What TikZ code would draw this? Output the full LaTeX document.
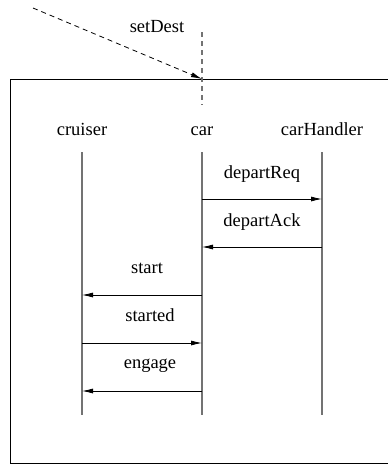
\documentclass[tikz,border=0pt]{standalone}
\usepackage{fontspec}
\setmainfont{Liberation Serif}
\usetikzlibrary{arrows.meta}
\begin{document}
\begin{tikzpicture}[x=1pt,y=-1pt,
  lbl/.style={font=\fontsize{18.5}{22}\selectfont, anchor=base, inner sep=0pt},
  lifeline/.style={draw=black!55, line width=1.3pt},
  msg/.style={draw=black, line width=0.8pt, -{Latex[length=11pt,width=5pt]}},
  extmsg/.style={draw=black, line width=0.8pt, dash pattern=on 5pt off 4pt, -{Latex[length=11pt,width=5pt]}},
  gate/.style={draw=black!55, line width=1.3pt, dash pattern=on 5pt off 4pt}]
\useasboundingbox (0,0) rectangle (388,464);

% enclosing frame (open to the right and bottom)
\draw[line width=0.9pt] (388,79) -- (10,79) -- (10,463) -- (388,463);

% lifeline heads
\node[lbl] (cruiser) at (82,135) {cruiser};
\node[lbl] (car) at (202,135) {car};
\node[lbl] (carHandler) at (322,135) {carHandler};

% lifeline ends
\coordinate (cruiserT) at (82,152);  \coordinate (cruiserB) at (82,415);
\coordinate (carT) at (202,152);     \coordinate (carB) at (202,415);
\coordinate (handT) at (322,152);    \coordinate (handB) at (322,415);
\draw[lifeline] (cruiserT) -- (cruiserB);
\draw[lifeline] (carT) -- (carB);
\draw[lifeline] (handT) -- (handB);

% incoming gate message
\coordinate (src) at (33,8);
\coordinate (gate) at (202,79);
\coordinate (gateT) at (202,32);
\coordinate (gateB) at (202,105);
\draw[gate] (gateT) -- (gateB);
\draw[extmsg] (src) -- (gate);
\node[lbl] (setDest) at (157,32) {setDest};

% message anchor points on lifelines
\coordinate (car1) at (202,199);  \coordinate (hand1) at (322,199);
\coordinate (car2) at (202,247);  \coordinate (hand2) at (322,247);
\coordinate (car3) at (202,295);  \coordinate (cru3) at (82,295);
\coordinate (car4) at (202,343);  \coordinate (cru4) at (82,343);
\coordinate (car5) at (202,391);  \coordinate (cru5) at (82,391);

% messages
\draw[msg] (car1) -- (hand1);
\node[lbl] (m1) at (262,178) {departReq};
\draw[msg] (hand2) -- (car2);
\node[lbl] (m2) at (262,226) {departAck};
\draw[msg] (car3) -- (cru3);
\node[lbl] (m3) at (147,273) {start};
\draw[msg] (cru4) -- (car4);
\node[lbl] (m4) at (150,321) {started};
\draw[msg] (car5) -- (cru5);
\node[lbl] (m5) at (150,368) {engage};
\end{tikzpicture}
\end{document}
